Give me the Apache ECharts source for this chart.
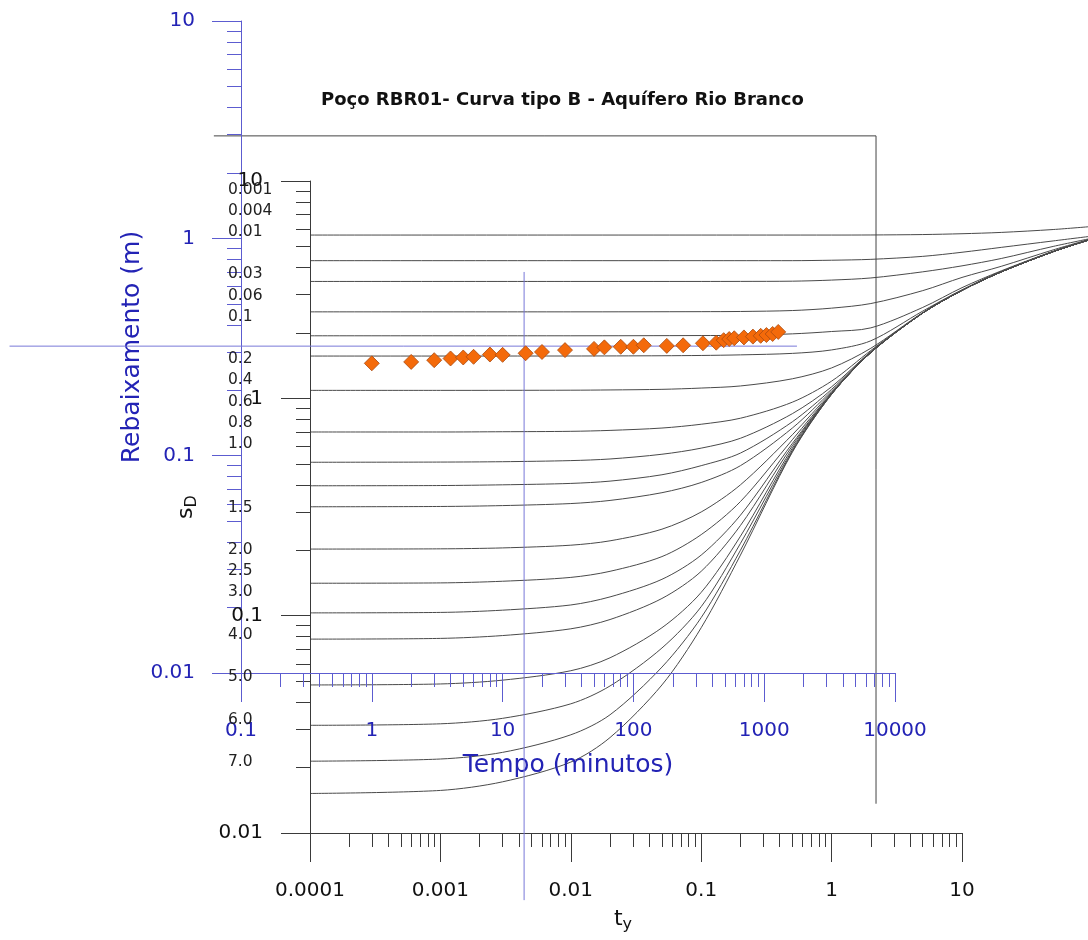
<!DOCTYPE html>
<html><head><meta charset="utf-8">
<script src="https://cdn.jsdelivr.net/npm/echarts@6/dist/echarts.min.js"></script>
<style>html,body{margin:0;padding:0;background:#fff}#c{width:1088px;height:940px}</style>
</head><body><div id="c"></div>
<script>
// ---------------- data ----------------
const chartTitle = 'Poço RBR01- Curva tipo B - Aquífero Rio Branco';
const tyTicks = [0.0001, 0.001, 0.01, 0.1, 1, 10];
const sdTicks = [0.01, 0.1, 1, 10];
const timeTicks = [0.1, 1, 10, 100, 1000, 10000];
const drawdownTicks = [0.01, 0.1, 1, 10];
const betaLabels = ['0.001','0.004','0.01','0.03','0.06','0.1','0.2','0.4','0.6','0.8','1.0','1.5','2.0','2.5','3.0','4.0','5.0','6.0','7.0'];

// Neuman type-B curves: [t_y, s_D]
const theisTail = [[2,1.625],[5,2.47],[10,3.14],[20,3.82],[50,4.73],[100,5.42]];
const cB0001 = [[1e-4,5.64],[0.01,5.64],[0.1,5.64],[1,5.64],[2,5.645],[5,5.67],[10,5.72],[20,5.8],[50,5.98],[100,6.18]];
const cB0004 = [[1e-4,4.30],[0.01,4.30],[0.1,4.30],[0.5,4.30],[1,4.32],[2,4.36],[5,4.5],[10,4.7],[20,4.95],[50,5.3],[100,5.58]];
const cB001  = [[1e-4,3.45],[0.01,3.45],[0.1,3.45],[0.2,3.452],[0.5,3.46],[1,3.5],[2,3.58],[5,3.82],[10,4.07],[20,4.4],[50,5.0],[100,5.46]];
const cB003  = [[1e-4,2.50],[0.01,2.50],[0.1,2.505],[0.2,2.51],[0.5,2.535],[1,2.6],[2,2.73],[5,3.13],[10,3.6],[20,4.05],[50,4.82],[100,5.44]];
const cB006  = [[1e-4,1.94],[0.01,1.94],[0.1,1.945],[0.2,1.95],[0.5,1.98],[1,2.03],[2,2.11],[5,2.62],[10,3.23],[20,3.86],[50,4.75],[100,5.43]];
const cB01   = [[1e-4,1.565],[0.01,1.566],[0.05,1.57],[0.1,1.575],[0.2,1.585],[0.5,1.61],[1,1.67],[2,1.84],[5,2.52],[10,3.16],[20,3.83],[50,4.73],[100,5.42]];
const cB02   = [[1e-4,1.088],[1e-3,1.088],[0.01,1.09],[0.02,1.093],[0.05,1.10],[0.1,1.115],[0.2,1.14],[0.5,1.23],[1,1.38],[2,1.70],[5,2.48],[10,3.14],[20,3.82],[50,4.73],[100,5.42]];
const cB04   = [[1e-4,0.700],[1e-3,0.700],[3e-3,0.702],[0.01,0.705],[0.02,0.712],[0.05,0.73],[0.1,0.76],[0.2,0.81],[0.5,0.96],[1,1.20],[2,1.66]].concat(theisTail.slice(1));
const cB06   = [[1e-4,0.508],[1e-3,0.509],[3e-3,0.511],[0.01,0.517],[0.02,0.526],[0.05,0.553],[0.1,0.59],[0.2,0.655],[0.5,0.85],[1,1.13],[2,1.64]].concat(theisTail.slice(1));
const cB08   = [[1e-4,0.396],[1e-3,0.397],[3e-3,0.40],[0.01,0.406],[0.02,0.416],[0.05,0.445],[0.1,0.49],[0.2,0.56],[0.5,0.78],[1,1.10],[2,1.635]].concat(theisTail.slice(1));
const cB10   = [[1e-4,0.317],[1e-3,0.318],[3e-3,0.321],[0.01,0.328],[0.02,0.339],[0.05,0.368],[0.1,0.41],[0.2,0.49],[0.5,0.73],[1,1.08],[2,1.63]].concat(theisTail.slice(1));
const cB15   = [[1e-4,0.2025],[1e-3,0.203],[3e-3,0.205],[0.01,0.211],[0.02,0.221],[0.05,0.250],[0.1,0.30],[0.2,0.40],[0.5,0.68],[1,1.065]].concat(theisTail);
const cB20   = [[1e-4,0.141],[1e-3,0.1415],[3e-3,0.144],[0.01,0.150],[0.02,0.160],[0.05,0.187],[0.1,0.236],[0.2,0.335],[0.5,0.645],[1,1.055]].concat(theisTail);
const cB25   = [[1e-4,0.103],[1e-3,0.1035],[3e-3,0.106],[0.01,0.112],[0.02,0.122],[0.05,0.147],[0.1,0.19],[0.2,0.29],[0.5,0.62],[1,1.05]].concat(theisTail);
const cB30   = [[1e-4,0.078],[1e-3,0.0786],[3e-3,0.081],[0.01,0.087],[0.02,0.096],[0.05,0.12],[0.1,0.16],[0.2,0.26],[0.5,0.605],[1,1.05]].concat(theisTail);
const cB40   = [[1e-4,0.048],[1e-3,0.0485],[3e-3,0.0505],[0.01,0.0558],[0.02,0.064],[0.05,0.088],[0.1,0.128],[0.2,0.232],[0.5,0.59],[1,1.047]].concat(theisTail);
const cB50   = [[1e-4,0.0313],[1e-3,0.0318],[3e-3,0.0337],[0.01,0.0393],[0.02,0.0475],[0.05,0.071],[0.1,0.11],[0.2,0.215],[0.5,0.578],[1,1.045]].concat(theisTail);
const cB60   = [[1e-4,0.0214],[1e-3,0.0219],[3e-3,0.0235],[0.01,0.0283],[0.02,0.035],[0.05,0.058],[0.1,0.098],[0.2,0.20],[0.5,0.57],[1,1.044]].concat(theisTail);
const cB70   = [[1e-4,0.0152],[1e-3,0.0157],[3e-3,0.0172],[0.01,0.0212],[0.02,0.0275],[0.05,0.048],[0.1,0.088],[0.2,0.19],[0.5,0.565],[1,1.044]].concat(theisTail);
const typeCurves = [cB0001,cB0004,cB001,cB003,cB006,cB01,cB02,cB04,cB06,cB08,cB10,cB15,cB20,cB25,cB30,cB40,cB50,cB60,cB70];

// observed data (Tempo in minutes, Rebaixamento in m)
const obsTime = [1,2,3,4,5,6,8,10,15,20,30,50,60,80,100,120,180,240,340,430,490,540,590,700,820,940,1040,1160,1280];
const obsDrawdown = [0.266,0.270,0.275,0.280,0.283,0.285,0.292,0.291,0.296,0.300,0.306,0.310,0.315,0.317,0.317,0.322,0.320,0.322,0.329,0.331,0.340,0.344,0.347,0.350,0.353,0.356,0.359,0.363,0.371];

// match-point cross (blue data axes)
const matchHLine = [[0.0017,0.319],[1780,0.319]];
const matchVLine = [[14.6,0.70],[14.6,0.0009]];
// black guide lines (blue data axes)
const guideLine = [[0.062,2.96],[7160,2.96],[7160,0.0025]];

// ---------------- chart ----------------
const FONT = 'DejaVu Sans';
const BLACK = '#3a3a3a', BLUE_LINE = '#5c5cd0', BLUE_TEXT = '#2323b5';
function minorOf(lo, hi) {
  const out = [];
  for (let e = Math.round(Math.log10(lo)); e < Math.round(Math.log10(hi)); e++)
    for (let m = 2; m <= 9; m++) out.push(+(m * Math.pow(10, e)).toPrecision(6));
  return out;
}
const fmt = v => String(+(+v).toPrecision(6));
function axis(o) {
  return {
    type: 'log', logBase: 10, gridIndex: o.grid, position: o.pos, min: o.min, max: o.max,
    show: o.show !== false,
    axisLine: { show: !!o.line, onZero: false, lineStyle: { color: o.color, width: 1 } },
    axisTick: { show: !!o.ticks, inside: false, length: o.len, customValues: o.ticks, lineStyle: { color: o.color, width: 1 } },
    axisLabel: o.labels ? { show: true, customValues: o.labels, margin: o.margin, color: o.text, fontFamily: FONT, fontSize: 20, formatter: fmt, hideOverlap: false, showMinLabel: true, showMaxLabel: true } : { show: false },
    splitLine: { show: false }, minorTick: { show: false }, minorSplitLine: { show: false },
    name: o.name || '', nameLocation: 'middle', nameGap: o.nameGap || 0, nameMoveOverlap: false,
    nameTextStyle: o.nameStyle || {}, silent: true, z: 3
  };
}
const labelRows = [0,1,2,4,5,6,8,9,10,11,12,15,17,18,19,21,23,25,27];
const rows = [];
betaLabels.forEach((t, i) => { while (rows.length < labelRows[i]) rows.push(''); rows.push(t); });

const chart = echarts.init(document.getElementById('c'), null, { renderer: 'canvas' });
const series = typeCurves.map((c, i) => ({
  type: 'line', name: 'beta ' + betaLabels[i], xAxisIndex: 4, yAxisIndex: 4, data: c,
  showSymbol: false, symbol: 'none', smooth: 0.3, clip: false,
  lineStyle: { color: '#4a4a4a', width: 1 }, silent: true, z: 2, animation: false
}));
series.push(
  { type: 'line', xAxisIndex: 5, yAxisIndex: 5, data: guideLine, symbol: 'none', clip: false, lineStyle: { color: '#444', width: 1 }, z: 2, animation: false, silent: true },
  { type: 'line', xAxisIndex: 5, yAxisIndex: 5, data: matchHLine, symbol: 'none', clip: false, lineStyle: { color: '#7878d8', width: 1 }, z: 3, animation: false, silent: true },
  { type: 'line', xAxisIndex: 5, yAxisIndex: 5, data: matchVLine, symbol: 'none', clip: false, lineStyle: { color: '#7878d8', width: 1 }, z: 3, animation: false, silent: true },
  { type: 'scatter', xAxisIndex: 2, yAxisIndex: 2, data: obsTime.map((t, i) => [t, obsDrawdown[i]]),
    symbol: 'diamond', symbolSize: 15, clip: false,
    itemStyle: { color: '#f46a0a', borderColor: '#a94a10', borderWidth: 0.8, opacity: 1 }, z: 6, animation: false }
);

chart.setOption({
  animation: false,
  backgroundColor: '#ffffff',
  title: { text: chartTitle, left: 316, top: 86, textStyle: { fontFamily: FONT, fontWeight: 'bold', fontSize: 18, color: '#111' } },
  grid: [
    { left: 310, top: 181, width: 652, height: 652, containLabel: false, outerBoundsMode: 'none' },
    { left: 241, top: 21, width: 654, height: 652, containLabel: false, outerBoundsMode: 'none' },
    { left: 310, top: 181, width: 782.4, height: 652, containLabel: false, outerBoundsMode: 'none' },
    { left: -20.6, top: -196.3, width: 1046.4, height: 1303.8, containLabel: false, outerBoundsMode: 'none' }
  ],
  xAxis: [
    axis({ grid: 0, pos: 'bottom', min: 1e-4, max: 10, line: true, color: BLACK, len: 29, ticks: tyTicks, labels: tyTicks, margin: 48, text: '#111',
      name: '{t|t}{y|y}', nameGap: 72, nameStyle: { padding: [0, 26, 0, 0], rich: { t: { fontFamily: FONT, fontSize: 22, color: '#111' }, y: { fontFamily: FONT, fontSize: 16, color: '#111', padding: [12, 0, 0, 0] } } } }),
    axis({ grid: 0, pos: 'bottom', min: 1e-4, max: 10, color: BLACK, len: 14, ticks: minorOf(1e-4, 10) }),
    axis({ grid: 1, pos: 'bottom', min: 0.1, max: 10000, line: true, color: BLUE_LINE, len: 29, ticks: timeTicks, labels: timeTicks, margin: 48, text: BLUE_TEXT,
      name: 'Tempo (minutos)', nameGap: 80, nameStyle: { fontFamily: FONT, fontSize: 25, color: BLUE_TEXT } }),
    axis({ grid: 1, pos: 'bottom', min: 0.1, max: 10000, color: BLUE_LINE, len: 14, ticks: minorOf(0.1, 10000) }),
    axis({ grid: 2, pos: 'bottom', min: 1e-4, max: 100, show: false }),
    axis({ grid: 3, pos: 'bottom', min: 0.001, max: 100000, show: false })
  ],
  yAxis: [
    axis({ grid: 0, pos: 'left', min: 0.01, max: 10, line: true, color: BLACK, len: 29, ticks: sdTicks, labels: sdTicks, margin: 47, text: '#111',
      name: '{s|s}{d|D}', nameGap: 110, nameStyle: { rich: { s: { fontFamily: FONT, fontSize: 22, color: '#111' }, d: { fontFamily: FONT, fontSize: 16, color: '#111', padding: [12, 0, 0, 0] } } } }),
    axis({ grid: 0, pos: 'left', min: 0.01, max: 10, color: BLACK, len: 14, ticks: minorOf(0.01, 10) }),
    axis({ grid: 1, pos: 'left', min: 0.01, max: 10, line: true, color: BLUE_LINE, len: 29, ticks: drawdownTicks, labels: drawdownTicks, margin: 46, text: BLUE_TEXT,
      name: 'Rebaixamento (m)', nameGap: 96, nameStyle: { fontFamily: FONT, fontSize: 25, color: BLUE_TEXT } }),
    axis({ grid: 1, pos: 'left', min: 0.01, max: 10, color: BLUE_LINE, len: 14, ticks: minorOf(0.01, 10) }),
    axis({ grid: 2, pos: 'left', min: 0.01, max: 10, show: false }),
    axis({ grid: 3, pos: 'left', min: 0.0001, max: 100, show: false })
  ],
  graphic: [{ type: 'text', left: 228, top: 179, silent: true, z: 10,
    style: { text: rows.join('\n'), font: '15.5px "DejaVu Sans"', fill: '#222', lineHeight: 21.2 } }],
  series: series
});
</script></body></html>
